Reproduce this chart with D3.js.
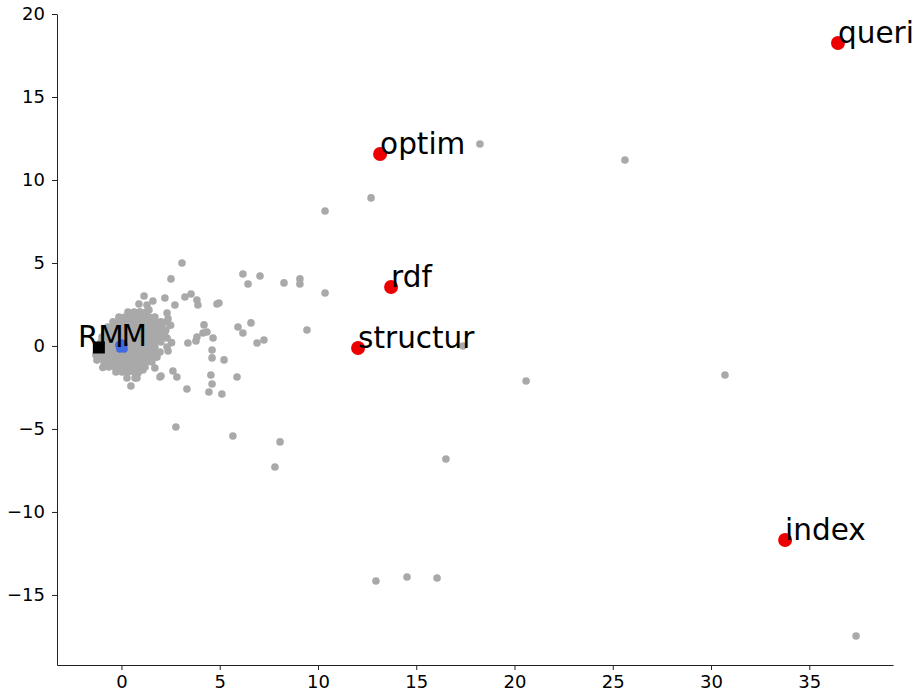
<!DOCTYPE html>
<html>
<head>
<meta charset="utf-8">
<script src="https://cdn.jsdelivr.net/npm/d3@7"></script>
<style>
  body { margin: 0; background: #fff; }
  text { font-family: "DejaVu Sans", sans-serif; }
</style>
</head>
<body>
<svg id="chart"></svg>
<script>
const width = 922;
const height = 699;
const margin = {top: 14, right: 29, bottom: 34, left: 57};

// axis limits and ticks
const xLimits = [-3.28, 39.26];
const yLimits = [-19.22, 20.0];
const xTicks = [0, 5, 10, 15, 20, 25, 30, 35];
const yTicks = [-15, -10, -5, 0, 5, 10, 15, 20];

// far away grey terms
const grayFar = [
  [18.24, 12.17], [25.62, 11.20], [10.36, 8.13], [12.70, 8.92], [3.08, 5.00],
  [6.18, 4.34], [7.05, 4.22], [6.44, 3.73], [8.27, 3.80], [9.08, 4.04],
  [9.08, 3.73], [10.36, 3.19], [9.44, 0.96], [17.38, 0.00], [20.59, -2.11],
  [30.71, -1.75], [16.51, -6.81], [8.07, -5.78], [7.81, -7.29], [5.67, -5.42],
  [2.77, -4.88], [12.95, -14.16], [14.53, -13.92], [16.06, -13.98], [37.38, -17.47]
];

// grey terms around the cluster
const grayNear = [
  [2.52, 4.04], [1.15, 3.01], [0.89, 2.53], [1.30, 2.47], [1.60, 2.71],
  [2.21, 2.89], [2.72, 2.47], [3.23, 2.95], [3.54, 3.13], [3.84, 2.77],
  [3.89, 2.47], [4.86, 2.53], [4.96, 2.59], [0.94, 2.05], [1.40, 2.17],
  [2.32, 1.99], [2.37, 1.63], [1.96, 1.39], [1.55, 1.39], [1.86, 0.84],
  [2.26, 0.96], [2.32, 0.48], [1.96, 0.36], [2.32, -0.06], [2.37, -0.30],
  [1.81, -0.66], [1.20, -0.42], [0.94, -0.78], [1.09, -1.45], [0.84, -1.63],
  [0.69, -1.93], [0.48, -2.41], [0.28, -1.93], [1.70, -1.33], [1.96, -1.87],
  [2.62, -1.51], [2.82, -1.87], [3.33, -2.59], [4.20, 1.27], [4.35, 0.84],
  [4.15, 0.78], [3.84, 0.54], [3.79, 0.30], [3.38, 0.18], [4.66, 0.48],
  [4.61, -0.24], [4.61, -0.72], [5.22, -0.84], [4.55, -1.75], [4.61, -2.29],
  [4.45, -2.77], [5.11, -2.89], [5.93, 1.14], [6.18, 0.78], [6.59, 1.39],
  [6.90, 0.18], [7.25, 0.36], [5.88, -1.87], [0.79, -1.93], [2.01, -1.81],
  [-1.30, -0.55], [-1.25, -0.85], [-0.95, -1.30], [2.55, 0.20], [2.50, 1.25]
];

// dense grey core near the origin
const grayCore = [
  [0.33, 2.05], [0.64, 2.05], [0.94, 2.05], [1.25, 2.05],
  [-0.13, 1.75], [0.18, 1.75], [0.48, 1.75], [0.79, 1.75], [1.09, 1.75], [1.40, 1.75], [1.70, 1.75],
  [-0.43, 1.45], [-0.13, 1.45], [0.18, 1.45], [0.48, 1.45], [0.79, 1.45], [1.09, 1.45], [1.40, 1.45], [1.70, 1.45], [2.01, 1.45], [2.32, 1.45],
  [-0.69, 1.14], [-0.38, 1.14], [-0.08, 1.14], [0.23, 1.14], [0.53, 1.14], [0.84, 1.14], [1.15, 1.14], [1.45, 1.14], [1.76, 1.14], [2.06, 1.14],
  [-0.84, 0.84], [-0.53, 0.84], [-0.23, 0.84], [0.08, 0.84], [0.38, 0.84], [0.69, 0.84], [0.99, 0.84], [1.30, 0.84], [1.60, 0.84], [1.91, 0.84], [2.21, 0.84],
  [-0.99, 0.54], [-0.69, 0.54], [-0.38, 0.54], [-0.08, 0.54], [0.23, 0.54], [0.53, 0.54], [0.84, 0.54], [1.15, 0.54], [1.45, 0.54], [1.76, 0.54], [2.06, 0.54],
  [-1.04, 0.24], [-0.74, 0.24], [-0.43, 0.24], [-0.13, 0.24], [0.18, 0.24], [0.48, 0.24], [0.79, 0.24], [1.09, 0.24], [1.40, 0.24], [1.70, 0.24], [2.01, 0.24],
  [-1.04, -0.06], [-0.74, -0.06], [-0.43, -0.06], [-0.13, -0.06], [0.18, -0.06], [0.48, -0.06], [0.79, -0.06], [1.09, -0.06], [1.40, -0.06], [1.70, -0.06],
  [-1.09, -0.36], [-0.79, -0.36], [-0.48, -0.36], [-0.18, -0.36], [0.13, -0.36], [0.43, -0.36], [0.74, -0.36], [1.04, -0.36], [1.35, -0.36], [1.65, -0.36], [1.96, -0.36],
  [-0.99, -0.66], [-0.69, -0.66], [-0.38, -0.66], [-0.08, -0.66], [0.23, -0.66], [0.53, -0.66], [0.84, -0.66], [1.15, -0.66], [1.45, -0.66], [1.76, -0.66],
  [-0.89, -0.96], [-0.59, -0.96], [-0.28, -0.96], [0.03, -0.96], [0.33, -0.96], [0.64, -0.96], [0.94, -0.96], [1.25, -0.96], [1.55, -0.96],
  [-0.64, -1.27], [-0.33, -1.27], [-0.03, -1.27], [0.28, -1.27], [0.59, -1.27], [0.89, -1.27], [1.20, -1.27],
  [-0.28, -1.57], [0.03, -1.57], [0.33, -1.57], [0.64, -1.57]
];

// blue terms (label "M")
const bluePoints = [
  [-0.13, 0.06], [0.13, 0.06], [-0.08, -0.18], [0.13, -0.18], [0.03, 0.18]
];

// highlighted red terms
const redTerms = ['queri', 'optim', 'rdf', 'structur', 'index'];
const redX = [36.46, 13.16, 13.72, 12.04, 33.77];
const redY = [18.25, 11.57, 3.55, -0.12, -11.69];

// the square and the blue label
const squareLabel = 'RM';
const squarePos = [-1.15, -0.09];
const blueLabel = 'M';
const bluePos = [0, 0];

const svg = d3.select('#chart')
    .attr('width', width)
    .attr('height', height);

const x = d3.scaleLinear().domain(xLimits).range([margin.left, width - margin.right]);
const y = d3.scaleLinear().domain(yLimits).range([height - margin.bottom, margin.top]);

const xAxis = svg.append('g')
    .attr('transform', `translate(0, ${height - margin.bottom})`)
    .call(d3.axisBottom(x).tickValues(xTicks).tickSize(5).tickSizeOuter(0).tickPadding(5));

const yAxis = svg.append('g')
    .attr('transform', `translate(${margin.left}, 0)`)
    .call(d3.axisLeft(y).tickValues(yTicks).tickSize(5).tickSizeOuter(0).tickPadding(7));

[xAxis, yAxis].forEach(a => {
    a.selectAll('text').style('font-size', '18px').attr('fill', '#000');
    a.select('.domain').attr('stroke', '#222');
    a.selectAll('.tick line').attr('stroke', '#222');
});

const grays = grayCore.concat(grayNear, grayFar);

svg.append('g').selectAll('circle').data(grays)
    .enter()
    .append('circle')
    .attr('cx', d => x(d[0]))
    .attr('cy', d => y(d[1]))
    .attr('r', 3.8)
    .style('fill', '#a9a9a9');

svg.append('g').selectAll('circle').data(bluePoints)
    .enter()
    .append('circle')
    .attr('cx', d => x(d[0]))
    .attr('cy', d => y(d[1]))
    .attr('r', 3.8)
    .style('fill', '#4169e1');

svg.append('rect')
    .attr('x', x(squarePos[0]) - 6)
    .attr('y', y(squarePos[1]) - 6)
    .attr('width', 12)
    .attr('height', 12)
    .style('fill', '#000');

const reds = redTerms.map((t, i) => ({term: t, x: redX[i], y: redY[i]}));

svg.append('g').selectAll('circle').data(reds)
    .enter()
    .append('circle')
    .attr('cx', d => x(d.x))
    .attr('cy', d => y(d.y))
    .attr('r', 7)
    .style('fill', '#ee0000');

svg.append('g').selectAll('text').data(reds)
    .enter()
    .append('text')
    .attr('x', d => x(d.x))
    .attr('y', d => y(d.y))
    .style('font-size', '29.5px')
    .text(d => d.term);

svg.append('text')
    .attr('x', x(squarePos[0]) + 2)
    .attr('y', y(squarePos[1]))
    .attr('text-anchor', 'middle')
    .style('font-size', '29.5px')
    .text(squareLabel);

svg.append('text')
    .attr('x', x(bluePos[0]))
    .attr('y', y(bluePos[1]))
    .style('font-size', '29.5px')
    .text(blueLabel);
</script>
</body>
</html>
